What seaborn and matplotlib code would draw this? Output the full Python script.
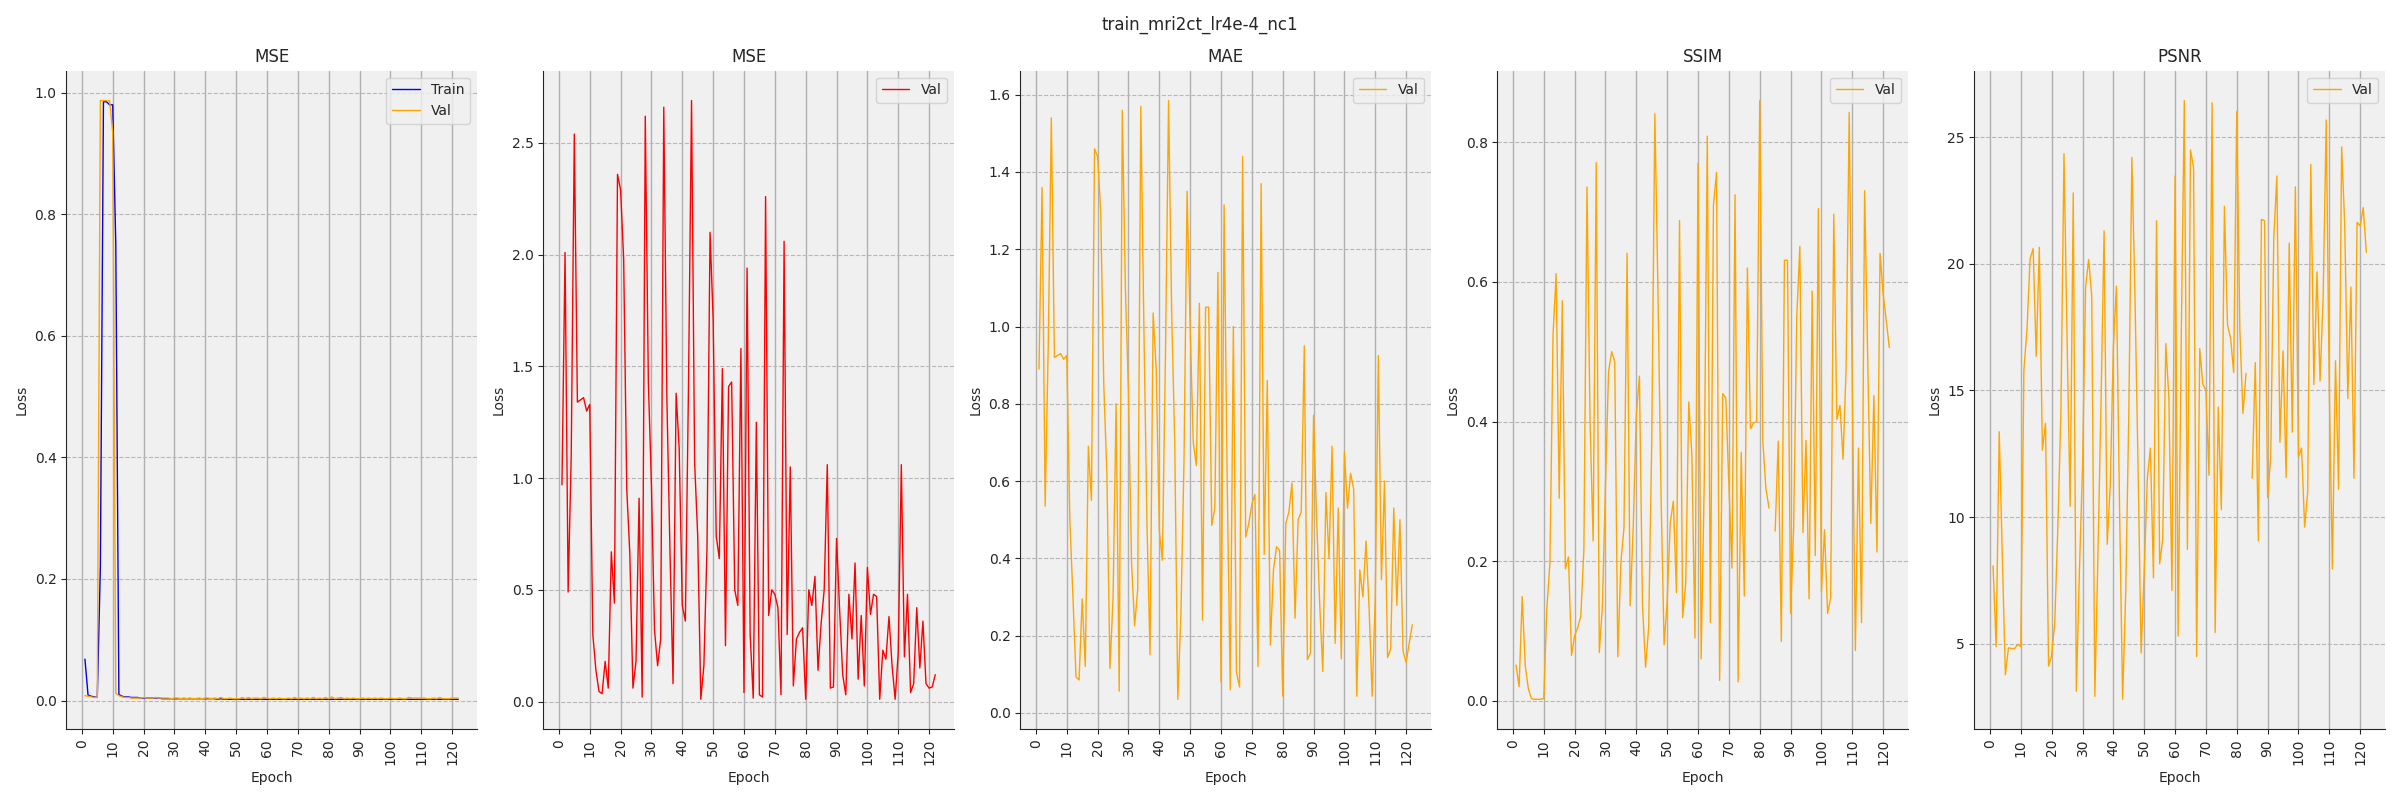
import numpy as np
import seaborn as sns
import matplotlib
matplotlib.use("Agg")
import matplotlib.pyplot as plt

nan = np.nan

# epochs 1..122
epochs = list(range(1, 123))

# panel 1: MSE train / val
mse_train = [0.068, 0.009, 0.007, 0.006, 0.005, 0.22, 0.985, 0.985, 0.98, 0.98, 0.75, 0.010,
             0.007, 0.006, 0.006, 0.005, 0.005, 0.005, 0.004, 0.004, 0.004, 0.004,
             0.004, 0.004, 0.004, 0.003, 0.003, 0.003, 0.003, 0.003, 0.003, 0.003,
             0.003, 0.003, 0.003, 0.003, 0.003, 0.003, 0.003, 0.003, 0.003, 0.003,
             0.003, 0.002, 0.003, 0.002, 0.002, 0.002, 0.002, 0.002, 0.002, 0.002,
             0.002, 0.002, 0.002, 0.002, 0.002, 0.002, 0.002, 0.002, 0.002, 0.002,
             0.002, 0.002, 0.002, 0.002, 0.002, 0.002, 0.002, 0.002, 0.002, 0.002,
             0.002, 0.002, 0.002, 0.002, 0.002, 0.002, 0.002, 0.002, 0.002, 0.002,
             0.002, 0.002, 0.002, 0.002, 0.002, 0.002, 0.002, 0.002, 0.002, 0.002,
             0.002, 0.002, 0.002, 0.002, 0.002, 0.002, 0.002, 0.002, 0.002, 0.002,
             0.002, 0.002, 0.002, 0.002, 0.002, 0.002, 0.002, 0.002, 0.002, 0.002,
             0.002, 0.002, 0.002, 0.002, 0.002, 0.002, 0.002, 0.002, 0.002, 0.002]
mse_val_1 = [0.008, 0.007, 0.006, 0.005, 0.005, 0.987, 0.987, 0.987, 0.987, 0.935, 0.012, 0.008,
             0.006, 0.005, 0.005, 0.004, 0.004, 0.004, 0.004, 0.005, 0.004, 0.004,
             0.004, 0.005, 0.004, 0.004, 0.004, 0.004, 0.003, 0.004, 0.004, 0.003,
             0.004, 0.003, 0.004, 0.003, 0.003, 0.004, 0.003, 0.004, 0.004, 0.003,
             0.004, 0.003, 0.005, 0.003, 0.003, 0.004, 0.003, 0.003, 0.003, 0.005,
             0.003, 0.005, 0.003, 0.004, 0.004, 0.003, 0.005, 0.004, 0.003, 0.004,
             0.003, 0.004, 0.003, 0.003, 0.004, 0.003, 0.005, 0.003, 0.004, 0.003,
             0.004, 0.003, 0.005, 0.003, 0.004, 0.003, 0.005, 0.003, 0.006, 0.003,
             0.004, 0.005, 0.003, 0.004, 0.003, 0.004, 0.003, 0.003, 0.004, 0.003,
             0.004, 0.003, 0.004, 0.003, 0.004, 0.003, 0.003, 0.004, 0.003, 0.003,
             0.004, 0.003, 0.003, 0.005, 0.004, 0.004, 0.004, 0.004, 0.004, 0.003,
             0.003, 0.004, 0.003, 0.005, 0.003, 0.003, 0.003, 0.004, 0.004, 0.004]

# panel 2: MSE val
mse_val = [0.97, 2.01, 0.49, 1.10, 2.54, 1.34, 1.35, 1.36, 1.30, 1.33,
           0.30, 0.14, 0.045, 0.035, 0.18, 0.06, 0.67, 0.44, 2.36, 2.29,
           1.98, 0.95, 0.66, 0.06, 0.18, 0.91, 0.02, 2.62, 1.43, 0.97,
           0.32, 0.16, 0.28, 2.66, 1.36, 0.68, 0.08, 1.38, 1.13, 0.43,
           0.36, 1.40, 2.69, 1.07, 0.74, 0.01, 0.16, 0.68, 2.10, 1.71,
           0.74, 0.64, 1.49, 0.25, 1.41, 1.43, 0.50, 0.43, 1.58, 0.04,
           1.94, 0.30, 0.015, 1.25, 0.03, 0.02, 2.26, 0.385, 0.50, 0.48,
           0.42, 0.03, 2.06, 0.30, 1.05, 0.07, 0.28, 0.31, 0.33, 0.01,
           0.50, 0.43, 0.56, 0.14, 0.35, 0.50, 1.06, 0.06, 0.065, 0.73,
           0.41, 0.12, 0.03, 0.48, 0.28, 0.62, 0.10, 0.385, 0.07, 0.60,
           0.39, 0.48, 0.47, 0.01, 0.23, 0.19, 0.38, 0.16, 0.01, 0.22,
           1.06, 0.20, 0.48, 0.04, 0.08, 0.42, 0.15, 0.36, 0.08, 0.06,
           0.065, 0.12]

# panel 3: MAE val
mae_val = [0.89, 1.36, 0.535, 0.95, 1.54, 0.92, 0.925, 0.93, 0.915, 0.925,
           0.50, 0.30, 0.093, 0.085, 0.295, 0.12, 0.69, 0.55, 1.46, 1.44,
           1.30, 0.85, 0.62, 0.115, 0.295, 0.80, 0.056, 1.56, 1.10, 0.83,
           0.39, 0.225, 0.32, 1.57, 1.00, 0.49, 0.15, 1.035, 0.89, 0.47,
           0.395, 0.93, 1.585, 1.04, 0.70, 0.035, 0.255, 0.65, 1.35, 1.00,
           0.70, 0.64, 1.06, 0.24, 1.05, 1.05, 0.485, 0.53, 1.14, 0.08,
           1.315, 0.60, 0.06, 1.00, 0.105, 0.067, 1.44, 0.455, 0.49, 0.54,
           0.565, 0.12, 1.37, 0.41, 0.86, 0.175, 0.37, 0.43, 0.42, 0.043,
           0.49, 0.52, 0.595, 0.245, 0.50, 0.52, 0.95, 0.138, 0.155, 0.77,
           0.50, 0.28, 0.107, 0.57, 0.40, 0.69, 0.18, 0.53, 0.14, 0.675,
           0.53, 0.62, 0.58, 0.043, 0.37, 0.30, 0.445, 0.27, 0.043, 0.30,
           0.925, 0.345, 0.60, 0.143, 0.165, 0.53, 0.278, 0.50, 0.16, 0.13,
           0.18, 0.228]

# panel 4: SSIM val (epoch 84 missing)
ssim_val = [0.051, 0.02, 0.149, 0.05, 0.017, 0.003, 0.002, 0.002, 0.002, 0.003,
            0.133, 0.198, 0.524, 0.612, 0.29, 0.573, 0.189, 0.206, 0.065, 0.093,
            0.105, 0.121, 0.217, 0.736, 0.40, 0.229, 0.771, 0.069, 0.136, 0.31,
            0.472, 0.50, 0.486, 0.063, 0.198, 0.248, 0.641, 0.136, 0.25, 0.41,
            0.465, 0.136, 0.048, 0.105, 0.372, 0.841, 0.589, 0.297, 0.08, 0.143,
            0.255, 0.286, 0.155, 0.688, 0.119, 0.167, 0.428, 0.353, 0.09, 0.77,
            0.06, 0.31, 0.809, 0.112, 0.71, 0.757, 0.029, 0.44, 0.434, 0.31,
            0.19, 0.725, 0.027, 0.356, 0.15, 0.62, 0.39, 0.398, 0.40, 0.86,
            0.372, 0.304, 0.276, nan, 0.243, 0.372, 0.085, 0.631, 0.631, 0.125,
            0.248, 0.55, 0.651, 0.241, 0.373, 0.146, 0.587, 0.208, 0.705, 0.156,
            0.245, 0.125, 0.147, 0.697, 0.403, 0.423, 0.346, 0.477, 0.843, 0.45,
            0.072, 0.362, 0.112, 0.731, 0.49, 0.254, 0.437, 0.213, 0.641, 0.583,
            0.545, 0.506]

# panel 5: PSNR val (epoch 84 missing)
psnr_val = [8.07, 4.88, 13.37, 8.5, 3.77, 4.83, 4.81, 4.80, 4.97, 4.88,
            15.8, 17.4, 20.2, 20.6, 16.35, 20.65, 12.64, 13.7, 4.11, 4.54,
            5.82, 9.57, 14.17, 24.35, 17.0, 10.42, 22.8, 3.12, 7.87, 11.96,
            19.1, 20.17, 18.7, 2.92, 8.5, 14.5, 21.3, 8.92, 11.27, 16.73,
            19.12, 10.42, 2.8, 7.0, 14.0, 24.2, 18.78, 12.0, 4.63, 7.87,
            11.5, 12.72, 7.6, 21.7, 8.15, 9.14, 16.85, 14.68, 7.1, 23.47,
            5.3, 17.0, 26.45, 8.72, 24.5, 23.8, 4.49, 16.65, 15.25, 15.0,
            11.65, 26.36, 5.44, 14.34, 10.29, 22.27, 17.58, 17.07, 15.71, 26.02,
            17.41, 14.09, 15.67, nan, 11.53, 16.1, 9.06, 21.76, 21.7, 10.76,
            12.33, 21.0, 23.47, 12.95, 16.56, 11.56, 20.82, 13.35, 23.04, 12.38,
            12.72, 9.6, 11.0, 23.93, 15.23, 19.68, 15.37, 18.69, 25.68, 15.0,
            7.95, 16.17, 11.1, 24.62, 21.5, 14.68, 19.08, 11.53, 21.64, 21.5,
            22.22, 20.45]


def draw_series(ax, x, vals, color, label):
    # seaborn drops NaN rows, so draw each unbroken run on its own to keep gaps
    x = np.asarray(x, dtype=float)
    y = np.asarray(vals, dtype=float)
    ok = ~np.isnan(y)
    breaks = np.where(np.diff(ok.astype(int)) != 0)[0] + 1
    first = True
    for seg in np.split(np.arange(len(y)), breaks):
        if not ok[seg[0]]:
            continue
        sns.lineplot(x=x[seg], y=y[seg], ax=ax, color=color, linewidth=1,
                     label=label if first else None)
        first = False


sns.set_style("ticks", {"axes.facecolor": "#f0f0f0"})

fig, axes = plt.subplots(1, 5, figsize=(24, 8))

panels = [
    ("MSE", [("Train", mse_train, "blue"), ("Val", mse_val_1, "orange")]),
    ("MSE", [("Val", mse_val, "red")]),
    ("MAE", [("Val", mae_val, "orange")]),
    ("SSIM", [("Val", ssim_val, "orange")]),
    ("PSNR", [("Val", psnr_val, "orange")]),
]

for ax, (title, series) in zip(axes, panels):
    for label, vals, color in series:
        draw_series(ax, epochs, vals, color, label)
    ax.set_title(title, fontsize=12)
    ax.set_xlabel("Epoch")
    ax.set_ylabel("Loss")
    ax.set_xticks(range(0, 121, 10))
    ax.tick_params(axis="x", labelrotation=90)
    ax.grid(axis="x", color="#b0b0b0", linewidth=1)
    ax.grid(axis="y", color="#b8b8b8", linestyle="--", linewidth=0.8)
    ax.set_axisbelow(True)
    ax.legend(loc="upper right")
    sns.despine(ax=ax)

fig.suptitle("train_mri2ct_lr4e-4_nc1", fontsize=12)
plt.tight_layout()
plt.savefig("out.png", dpi=100)
